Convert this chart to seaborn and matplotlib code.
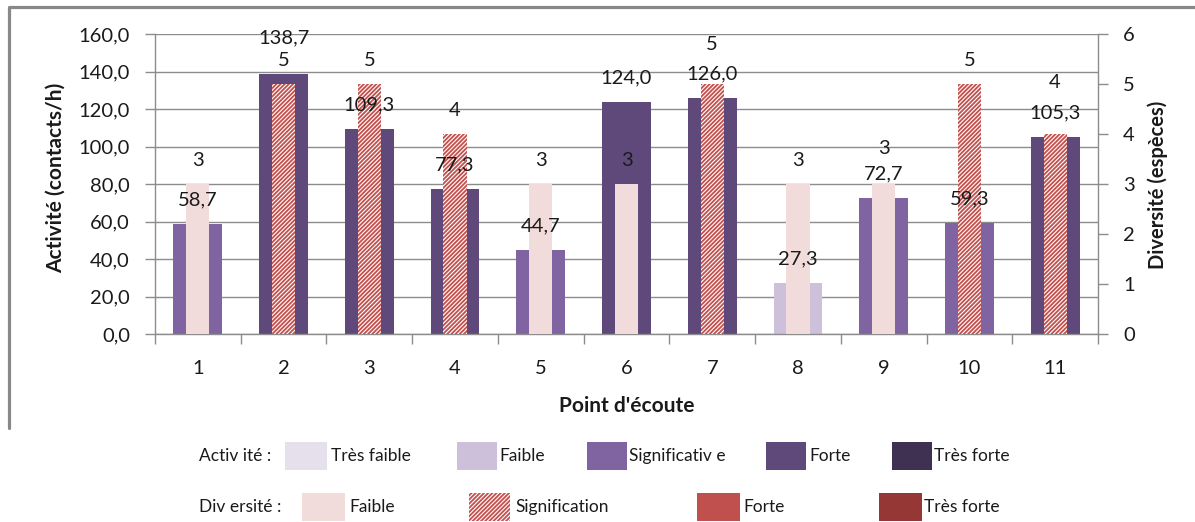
import matplotlib
matplotlib.use("Agg")
import matplotlib.pyplot as plt
from matplotlib.patches import Rectangle
from matplotlib.lines import Line2D
from matplotlib.colors import to_hex
import seaborn as sns
import pandas as pd

# --- data -------------------------------------------------------------
points = ["1", "2", "3", "4", "5", "6", "7", "8", "9", "10", "11"]
activite = [58.7, 138.7, 109.3, 77.3, 44.7, 124.0, 126.0, 27.3, 72.7, 59.3, 105.3]
classe_activite = ["Significative", "Forte", "Forte", "Forte", "Significative", "Forte",
                   "Forte", "Faible", "Significative", "Significative", "Forte"]
diversite = [3, 5, 5, 4, 3, 3, 5, 3, 3, 5, 4]
classe_diversite = ["Faible", "Signification", "Signification", "Signification", "Faible", "Faible",
                    "Signification", "Faible", "Faible", "Signification", "Signification"]
y_ticks_act = [0, 20, 40, 60, 80, 100, 120, 140, 160]
y_ticks_div = [0, 1, 2, 3, 4, 5, 6]

# --- styles -----------------------------------------------------------
pal_act = {"Très faible": "#E5E0EC", "Faible": "#CCC0DA", "Significative": "#8064A2",
           "Forte": "#5F497A", "Très forte": "#3F3151"}
pal_div = {"Faible": "#F2DCDB", "Signification": "#C4504D", "Forte": "#C0504D",
           "Très forte": "#953735"}
HATCH = "////////"
# extra lift (pixels) for labels nudged away from neighbours
lift_act = [0, 12, 0, 0, 0, 0, 0, 0, 0, 0, 0]
lift_div = [0, 0, 0, 0, 0, 0, 15, 0, 12, 0, 27]

W, H = 1195, 522
sns.set_theme(style="white")
plt.rcParams["font.family"] = ["Lato", "DejaVu Sans"]
plt.rcParams["hatch.linewidth"] = 0.8
plt.rcParams["hatch.color"] = "white"

fig = plt.figure(figsize=(W / 100, H / 100), dpi=100)
ax = fig.add_axes([155 / W, 1 - 334 / H, 943 / W, 300 / H])
ax2 = ax.twinx()

df = pd.DataFrame({"point": points, "activite": activite, "ca": classe_activite,
                   "diversite": diversite, "cd": classe_diversite})

sns.barplot(data=df, x="point", y="activite", hue="ca", palette=pal_act,
            dodge=False, width=0.57, legend=False, ax=ax, saturation=1, linewidth=0)
sns.barplot(data=df, x="point", y="diversite", hue="cd", palette=pal_div,
            dodge=False, width=0.27, legend=False, ax=ax2, saturation=1, linewidth=0)

hatched = to_hex(pal_div["Signification"])
for p in ax2.patches:
    if to_hex(p.get_facecolor()) == hatched:
        p.set_hatch(HATCH)
        p.set_edgecolor("white")
        p.set_linewidth(0)

grey = "#8C8C8C"
ax.set_ylim(0, 160)
ax2.set_ylim(0, 6)
ax.set_xlim(-0.5, len(points) - 0.5)
ax.set_yticks(y_ticks_act)
ax.set_yticklabels([f"{v:.1f}".replace(".", ",") for v in y_ticks_act])
ax2.set_yticks(y_ticks_div)
ax2.set_yticklabels([str(v) for v in y_ticks_div])

ax.set_axisbelow(True)
ax.yaxis.grid(True, color=grey, linewidth=1)
ax.xaxis.grid(False)
ax2.grid(False)

for a in (ax, ax2):
    for s in a.spines.values():
        s.set_visible(False)
ax.spines["left"].set_visible(True)
ax.spines["bottom"].set_visible(True)
ax2.spines["right"].set_visible(True)
for s in (ax.spines["left"], ax.spines["bottom"], ax2.spines["right"]):
    s.set_color(grey)
    s.set_linewidth(1)

tick_font = 14.5
ax.tick_params(axis="y", left=True, length=7, width=1, color=grey, pad=11,
               labelsize=tick_font, labelcolor="#1a1a1a")
ax2.tick_params(axis="y", right=True, length=7, width=1, color=grey, pad=11,
                labelsize=tick_font, labelcolor="#1a1a1a")
ax.set_xticks(range(len(points)))
ax.set_xticklabels(points)
ax.tick_params(axis="x", which="major", length=0, pad=19, labelsize=tick_font,
               labelcolor="#1a1a1a")
ax.set_xticks([i - 0.5 for i in range(len(points) + 1)], minor=True)
ax.tick_params(axis="x", which="minor", bottom=True, length=7, width=1, color=grey)

ax.set_xlabel("Point d'écoute", fontsize=15, fontweight="bold", color="#1a1a1a")
ax.xaxis.set_label_coords(0.5, -0.205)
ax.xaxis.label.set_va("top")
ax.set_ylabel("Activité (contacts/h)", fontsize=15, fontweight="bold", color="#1a1a1a")
ax.yaxis.set_label_coords(-0.095, 0.52)
ax2.set_ylabel("Diversité (espèces)", fontsize=14.5, fontweight="bold", color="#1a1a1a")
ax2.yaxis.set_label_coords(1.052, 0.497)

# value labels
lab_font = 14.5
for i, (v, d) in enumerate(zip(activite, diversite)):
    ax2.annotate(f"{v:.1f}".replace(".", ","), xy=(i, v), xycoords=ax.transData,
                 xytext=(0, 24 + lift_act[i]), textcoords="offset pixels",
                 ha="center", va="center", fontsize=lab_font, color="#1a1a1a", zorder=5)
    ax2.annotate(str(d), xy=(i, d), xycoords=ax2.transData,
                 xytext=(0, 24 + lift_div[i]), textcoords="offset pixels",
                 ha="center", va="center", fontsize=lab_font, color="#1a1a1a", zorder=5)

# outer frame (top and left edges)
fig.add_artist(Line2D([9 / W, 9 / W, 1], [1 - 428 / H, 1 - 7 / H, 1 - 7 / H],
                      transform=fig.transFigure, color="#888888", linewidth=2.3))


# legend block below the chart
def box(x0, x1, y0, y1, color, hatch=None):
    r = Rectangle((x0 / W, 1 - y1 / H), (x1 - x0) / W, (y1 - y0) / H,
                  transform=fig.transFigure, facecolor=color, linewidth=0,
                  edgecolor="white" if hatch else color, hatch=hatch)
    fig.add_artist(r)


def txt(x, y, s):
    fig.text(x / W, 1 - y / H, s, ha="left", va="center", fontsize=12.5, color="#1a1a1a")


row1 = [("Très faible", 285, 327, 331), ("Faible", 457, 497, 499),
        ("Significativ e", 587, 627, 629), ("Forte", 766, 806, 809),
        ("Très forte", 892, 932, 934)]
txt(199, 456, "Activ ité :")
for name, x0, x1, tx in row1:
    key = name.replace("Significativ e", "Significative")
    box(x0, x1, 442, 470, pal_act[key])
    txt(tx, 456, name)

row2 = [("Faible", 302, 345, 349), ("Signification", 469, 510, 515),
        ("Forte", 697, 740, 743), ("Très forte", 879, 922, 924)]
txt(199, 507, "Div ersité :")
for name, x0, x1, tx in row2:
    box(x0, x1, 493, 521, pal_div[name], hatch=HATCH if name == "Signification" else None)
    txt(tx, 507, name)

fig.savefig("out.png", dpi=100)
